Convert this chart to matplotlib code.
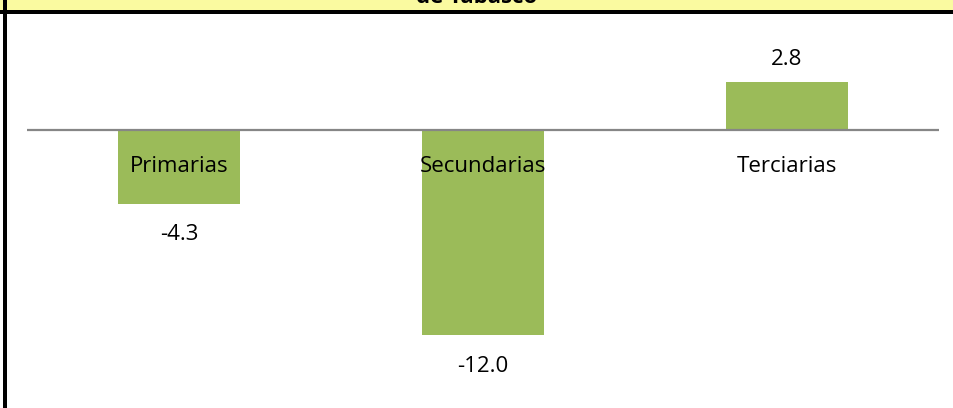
import matplotlib.pyplot as plt
from matplotlib.patches import Rectangle

categories = ['Primarias', 'Secundarias', 'Terciarias']
values = [-4.3, -12.0, 2.8]
value_labels = ['-4.3', '-12.0', '2.8']
title_text = 'de Tabasco'

W, H = 954, 408
plt.rcParams['font.family'] = ['Open Sans', 'DejaVu Sans']

fig = plt.figure(figsize=(W / 100, H / 100), dpi=100)
fig.patch.set_facecolor('white')

# yellow title band (mostly cropped off) and the black rule under it
fig.patches.append(Rectangle((0, 1 - 10 / H), 1, 10 / H, transform=fig.transFigure,
                             facecolor='#FAFAA0', edgecolor='none', zorder=0))
fig.patches.append(Rectangle((0, 1 - 14 / H), 1, 4 / H, transform=fig.transFigure,
                             facecolor='black', edgecolor='none', zorder=1))
# left frame line
fig.patches.append(Rectangle((3 / W, 0), 4 / W, 1, transform=fig.transFigure,
                             facecolor='black', edgecolor='none', zorder=1))
fig.text(0.5, 1 - 3 / H, title_text, ha='center', va='baseline',
         fontsize=16, fontweight='bold', color='black')

# axes placed so that zero sits at y=130 px
top_px, bot_px, zero_px, scale = 14, 408, 130, 17.1
ax = fig.add_axes([27 / W, 0, (939 - 27) / W, (H - top_px) / H])
ax.set_facecolor('none')
ax.bar(range(len(values)), values, width=0.4, color='#9BBB59', zorder=2)
ax.set_xlim(-0.5, len(values) - 0.5)
ax.set_ylim(-(bot_px - zero_px) / scale, (zero_px - top_px) / scale)
ax.axhline(0, color='#868686', lw=1.6, zorder=3)
for s in ax.spines.values():
    s.set_visible(False)
ax.set_xticks([])
ax.set_yticks([])

for i, (cat, v, lab) in enumerate(zip(categories, values, value_labels)):
    ax.annotate(cat, xy=(i, 0), xytext=(0, -26.6), textcoords='offset points',
                ha='center', va='center', fontsize=16, zorder=4)
    off = 16.6 if v > 0 else -22.3
    ax.annotate(lab, xy=(i, v), xytext=(0, off), textcoords='offset points',
                ha='center', va='center', fontsize=16, zorder=4)

fig.savefig('out.png', dpi=100)
